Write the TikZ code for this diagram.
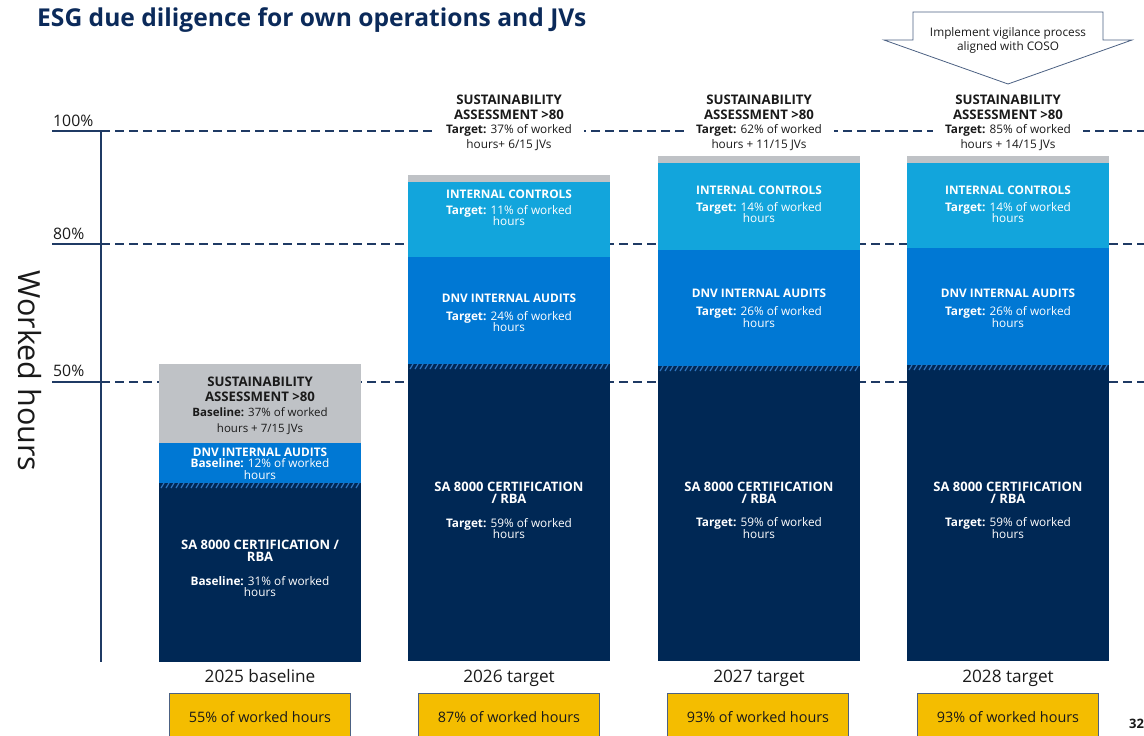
\documentclass[tikz,border=0pt]{standalone}
\usepackage{fontspec}
\setmainfont{Open Sans}
\usetikzlibrary{positioning}
\definecolor{eNavy}{HTML}{002855}
\definecolor{eBlue}{HTML}{0078D4}
\definecolor{eSky}{HTML}{12A5DC}
\definecolor{eGray}{HTML}{BFC2C6}
\definecolor{eGold}{HTML}{F4BD00}
\definecolor{eTitle}{HTML}{0B2A5A}
\definecolor{eAxis}{HTML}{1F3A64}
\definecolor{eStripe}{HTML}{2E74BE}
\definecolor{eInk}{HTML}{1A1A1A}
\tikzset{hd/.style={font=\bfseries\fontsize{11.8}{12.2}\selectfont, text=white,
  align=center, inner sep=0pt}}
\tikzset{hdl/.style={hd, font=\bfseries\fontsize{13}{12.5}\selectfont}}
\tikzset{nt/.style={font=\fontsize{11.8}{11.8}\selectfont, text=white,
  align=center, inner sep=0pt}}
\tikzset{kt/.style={font=\fontsize{11.8}{14.5}\selectfont, text=eInk,
  align=center, inner sep=0pt}}
\tikzset{lvl/.style={draw=eAxis, line width=1.3pt}}
\tikzset{lvld/.style={lvl, dash pattern=on 9pt off 5pt}}
\tikzset{lvlt/.style={anchor=west, font=\fontsize{15.8}{18}\selectfont, text=eInk,
  inner sep=0pt}}
\tikzset{yr/.style={anchor=base, font=\fontsize{17.2}{20}\selectfont, text=eInk}}
\tikzset{ybox/.style={draw=eAxis!80, line width=0.8pt, fill=eGold,
  minimum width=181pt, minimum height=48pt, font=\fontsize{14.4}{18}\selectfont,
  text=eInk}}
\newcommand\hdline[1]{{\bfseries\fontsize{13.2}{14.5}\selectfont #1}}
% band of stripes at the top of a navy block: left x, right x, top y
\newcommand\hatchband[3]{%
  \fill[eNavy] (#1,#3) rectangle (#2,#3+5);
  \foreach \i in {0,...,39}
    \draw[eStripe, line width=1.2pt] ({#1+2+5*\i},#3+5) -- ++(3,-5);}

\begin{document}
\begin{tikzpicture}[x=1pt,y=-1pt]
        \useasboundingbox (0,0) rectangle (1144,736);
        \node (title) at (37,20) [anchor=west, inner sep=0pt, text=eTitle,
          font=\bfseries\fontsize{24.6}{28}\selectfont]
          {ESG due diligence for own operations and JVs};
        %% axis and levels
        \draw [lvl] (101,131) -- (101,662);
        \foreach \y in {131,244,382} {
            \draw [lvl] (52,\y) -- (101,\y);
            \draw [lvld] (101,\y) -- (1144,\y);
        }
        \node (p100) at (53,121) [lvlt] {100\%};
        \node (p80) at (53,234) [lvlt] {80\%};
        \node (p50) at (53,371) [lvlt] {50\%};
        \node (ylab) at (30,371) [rotate=-90, text=eInk,
          font=\fontsize{30.5}{32}\selectfont] {Worked hours};
        %% 2025 baseline
        \fill [eGray] (159,364) rectangle (361,443);
        \fill [eBlue] (159,443) rectangle (361,483);
        \fill [eNavy] (159,483) rectangle (361,662);
        \hatchband{159}{361}{483}
        \node (s1) at (260,405.5) [kt, font=\fontsize{11.5}{15.3}\selectfont]
          {\hdline{SUSTAINABILITY}\\\hdline{ASSESSMENT >80}\\
           \textbf{Baseline:} 37\% of worked\\hours + 7/15 JVs};
        \node (d1) at (260,452) [hd] {DNV INTERNAL AUDITS};
        \node (d1n) at (260,469) [nt] {\textbf{Baseline:} 12\% of worked\\hours};
        \node (a1) at (260,551) [hdl] {SA 8000 CERTIFICATION /\\RBA};
        \node (a1n) at (260,586.5) [nt] {\textbf{Baseline:} 31\% of worked\\hours};
        %% 2026 target
        \fill [eGray] (408,175) rectangle (610,182);
        \fill [eSky] (408,182) rectangle (610,257);
        \fill [eBlue] (408,257) rectangle (610,364);
        \fill [eNavy] (408,364) rectangle (610,661);
        \hatchband{408}{610}{364}
        \node (s2) at (509,123) [kt, fill=white, inner xsep=12pt, inner ysep=1pt]
          {\hdline{SUSTAINABILITY}\\\hdline{ASSESSMENT >80}\\
           \textbf{Target:} 37\% of worked\\hours+ 6/15 JVs};
        \node (c2) at (509,194) [hd] {INTERNAL CONTROLS};
        \node (c2n) at (509,215.5) [nt] {\textbf{Target:} 11\% of worked\\hours};
        \node (d2) at (509,298) [hd] {DNV INTERNAL AUDITS};
        \node (d2n) at (509,321.5) [nt] {\textbf{Target:} 24\% of worked\\hours};
        \node (a2) at (509,493) [hdl] {SA 8000 CERTIFICATION\\/ RBA};
        \node (a2n) at (509,528.5) [nt] {\textbf{Target:} 59\% of worked\\hours};
        %% 2027 target
        \fill [eGray] (658,156) rectangle (860,163);
        \fill [eSky] (658,163) rectangle (860,250);
        \fill [eBlue] (658,250) rectangle (860,366);
        \fill [eNavy] (658,366) rectangle (860,661);
        \hatchband{658}{860}{366}
        \node (s3) at (759,123) [kt, fill=white, inner xsep=12pt, inner ysep=1pt]
          {\hdline{SUSTAINABILITY}\\\hdline{ASSESSMENT >80}\\
           \textbf{Target:} 62\% of worked\\hours + 11/15 JVs};
        \node (c3) at (759,190) [hd] {INTERNAL CONTROLS};
        \node (c3n) at (759,212.5) [nt] {\textbf{Target:} 14\% of worked\\hours};
        \node (d3) at (759,293) [hd] {DNV INTERNAL AUDITS};
        \node (d3n) at (759,317) [nt] {\textbf{Target:} 26\% of worked\\hours};
        \node (a3) at (759,493) [hdl] {SA 8000 CERTIFICATION\\/ RBA};
        \node (a3n) at (759,528) [nt] {\textbf{Target:} 59\% of worked\\hours};
        %% 2028 target
        \fill [eGray] (907,156) rectangle (1109,163);
        \fill [eSky] (907,163) rectangle (1109,248);
        \fill [eBlue] (907,248) rectangle (1109,365);
        \fill [eNavy] (907,365) rectangle (1109,661);
        \hatchband{907}{1109}{365}
        \node (s4) at (1008,123) [kt, fill=white, inner xsep=12pt, inner ysep=1pt]
          {\hdline{SUSTAINABILITY}\\\hdline{ASSESSMENT >80}\\
           \textbf{Target:} 85\% of worked\\hours + 14/15 JVs};
        \node (c4) at (1008,190) [hd] {INTERNAL CONTROLS};
        \node (c4n) at (1008,212.5) [nt] {\textbf{Target:} 14\% of worked\\hours};
        \node (d4) at (1008,293) [hd] {DNV INTERNAL AUDITS};
        \node (d4n) at (1008,317) [nt] {\textbf{Target:} 26\% of worked\\hours};
        \node (a4) at (1008,493) [hdl] {SA 8000 CERTIFICATION\\/ RBA};
        \node (a4n) at (1008,528) [nt] {\textbf{Target:} 59\% of worked\\hours};
        %% vigilance arrow
        \draw [eAxis!80, line width=0.8pt, fill=white] (913,12) -- (1103,12)
          -- (1103,40) -- (1132,40) -- (1008,84) -- (884,40) -- (913,40) -- cycle;
        \node (vig) at (1008,40) [align=center, text=eInk,
          font=\fontsize{11.8}{14}\selectfont]
          {Implement vigilance process\\aligned with COSO};
        %% years and totals
        \node (y25) at (260,682.5) [yr] {2025 baseline};
        \node (y26) at (509,682.5) [yr] {2026 target};
        \node (y27) at (759,682.5) [yr] {2027 target};
        \node (y28) at (1008,682.5) [yr] {2028 target};
        \node (t25) at (260,717) [ybox] {55\% of worked hours};
        \node (t26) at (509,717) [ybox] {87\% of worked hours};
        \node (t27) at (758,717) [ybox] {93\% of worked hours};
        \node (t28) at (1008,717) [ybox] {93\% of worked hours};
        \node (pg) at (1129,724) [anchor=west, inner sep=0pt, text=eInk,
          font=\bfseries\fontsize{13}{14}\selectfont] {32};
    \end{tikzpicture}
\end{document}
